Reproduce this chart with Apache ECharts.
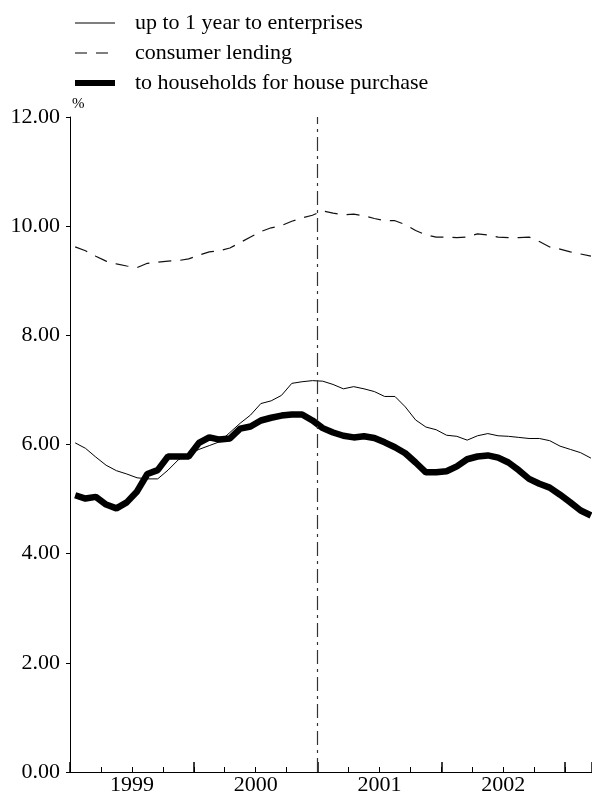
<!DOCTYPE html>
<html>
<head>
<meta charset="utf-8">
<script src="https://cdn.jsdelivr.net/npm/echarts@6/dist/echarts.min.js"></script>
<style>
  html, body { margin: 0; padding: 0; background: #fff; }
  #chart { width: 592px; height: 796px; }
</style>
</head>
<body>
<div id="chart"></div>
<script>
// monthly data, Jan 1999 .. Mar 2003
const yearLabels = ['1999', '2000', '2001', '2002'];
const changeoverMonth = 24; // Jan 2001

const enterprises = [
  6.03, 5.93, 5.77, 5.62, 5.52, 5.46, 5.39, 5.37, 5.37, 5.53, 5.72, 5.82,
  5.91, 5.98, 6.05, 6.22, 6.39, 6.54, 6.75, 6.80, 6.90, 7.12, 7.15, 7.17,
  7.16, 7.10, 7.02, 7.06, 7.02, 6.97, 6.88, 6.88, 6.69, 6.45, 6.32, 6.27,
  6.17, 6.15, 6.08, 6.16, 6.20, 6.16, 6.15, 6.13, 6.11, 6.11, 6.07, 5.97,
  5.91, 5.85, 5.75
];
const consumer = [
  9.62, 9.55, 9.45, 9.36, 9.31, 9.27, 9.24, 9.32, 9.34, 9.36, 9.37, 9.40,
  9.47, 9.53, 9.55, 9.60, 9.70, 9.80, 9.90, 9.97, 10.01, 10.09, 10.15, 10.20,
  10.28, 10.24, 10.21, 10.22, 10.19, 10.14, 10.10, 10.10, 10.03, 9.92, 9.84, 9.80,
  9.80, 9.79, 9.80, 9.86, 9.84, 9.80, 9.79, 9.79, 9.80, 9.72, 9.62, 9.58,
  9.53, 9.49, 9.45
];
const housing = [
  5.07, 5.01, 5.04, 4.90, 4.83, 4.94, 5.14, 5.46, 5.53, 5.78, 5.78, 5.78,
  6.03, 6.13, 6.09, 6.11, 6.29, 6.33, 6.44, 6.49, 6.53, 6.55, 6.55, 6.44,
  6.30, 6.22, 6.16, 6.13, 6.15, 6.12, 6.04, 5.95, 5.84, 5.67, 5.49, 5.49,
  5.51, 5.60, 5.73, 5.78, 5.80, 5.76, 5.67, 5.53, 5.37, 5.28, 5.21, 5.08,
  4.94, 4.79, 4.70
];

const xMax = 50.6;
const font = 'Liberation Serif, Times New Roman, serif';

// points sit in the middle of their month
function toPoints(values) {
  return values.map((v, i) => [i + 0.5, v]);
}

const chart = echarts.init(document.getElementById('chart'));

const noSymbol = { color: 'transparent', borderColor: 'transparent', borderWidth: 0 };

const option = {
  animation: false,
  backgroundColor: '#fff',
  textStyle: { fontFamily: font, color: '#000' },
  legend: {
    orient: 'vertical',
    left: 72,
    top: 12,
    padding: 0,
    itemWidth: 40,
    itemHeight: 14,
    itemGap: 8,
    itemStyle: noSymbol,
    textStyle: { fontFamily: font, fontSize: 22, color: '#000', padding: [0, 0, 0, 15] },
    data: [
      { name: 'up to 1 year to enterprises', itemStyle: noSymbol, lineStyle: { color: '#000', width: 1.2 } },
      { name: 'consumer lending', itemStyle: noSymbol, lineStyle: { color: '#000', width: 1.2, type: [12, 9] } },
      { name: 'to households for house purchase', itemStyle: noSymbol, lineStyle: { color: '#000', width: 6 } }
    ]
  },
  grid: { left: 70, right: 0, top: 117, bottom: 21 },
  xAxis: [
    {
      type: 'value', position: 'bottom', min: 0, max: xMax, interval: 3,
      axisLine: { lineStyle: { color: '#000', width: 1 } },
      axisTick: { inside: true, length: 5, lineStyle: { color: '#000' } },
      axisLabel: { show: false },
      splitLine: { show: false }
    },
    {
      type: 'value', position: 'bottom', min: 0, max: xMax, interval: 12,
      axisLine: { show: false },
      axisTick: { inside: true, length: 10, lineStyle: { color: '#000', width: 1.5 } },
      axisLabel: { show: false },
      splitLine: { show: false }
    },
    {
      // half-year steps; only the mid-year steps get a label
      type: 'value', position: 'bottom', min: 0, max: xMax, interval: 6,
      axisLine: { show: false },
      axisTick: { show: false },
      splitLine: { show: false },
      axisLabel: {
        showMinLabel: false, showMaxLabel: false,
        fontFamily: font, fontSize: 22, color: '#000', margin: 2,
        formatter: v => (v % 12 === 6 ? (yearLabels[(v - 6) / 12] || '') : '')
      }
    }
  ],
  yAxis: {
    type: 'value', min: 0, max: 12, interval: 2,
    name: '%',
    nameLocation: 'end',
    nameGap: 5,
    nameTextStyle: { fontFamily: font, fontSize: 15, color: '#000', align: 'left', padding: [0, 0, 0, 2] },
    axisLine: { show: true, lineStyle: { color: '#000', width: 1 } },
    axisTick: { show: true, inside: false, length: 4, lineStyle: { color: '#000' } },
    axisLabel: { fontFamily: font, fontSize: 22, color: '#000', margin: 10, formatter: v => v.toFixed(2) },
    splitLine: { show: false }
  },
  series: [
    {
      name: 'up to 1 year to enterprises',
      type: 'line', xAxisIndex: 0,
      data: toPoints(enterprises),
      symbol: 'none',
      lineStyle: { color: '#000', width: 1 },
      itemStyle: { color: '#000' },
      markLine: {
        silent: true,
        symbol: 'none',
        label: { show: false },
        lineStyle: { color: '#333', width: 1.2, type: [14, 5, 3, 5] },
        data: [{ xAxis: changeoverMonth }]
      }
    },
    {
      name: 'consumer lending',
      type: 'line', xAxisIndex: 0,
      data: toPoints(consumer),
      symbol: 'none',
      lineStyle: { color: '#111', width: 1.2, type: [13, 9] },
      itemStyle: { color: '#111' }
    },
    {
      name: 'to households for house purchase',
      type: 'line', xAxisIndex: 0,
      data: toPoints(housing),
      symbol: 'none',
      lineStyle: { color: '#000', width: 6.5 },
      itemStyle: { color: '#000' }
    }
  ]
};

chart.setOption(option);
</script>
</body>
</html>
